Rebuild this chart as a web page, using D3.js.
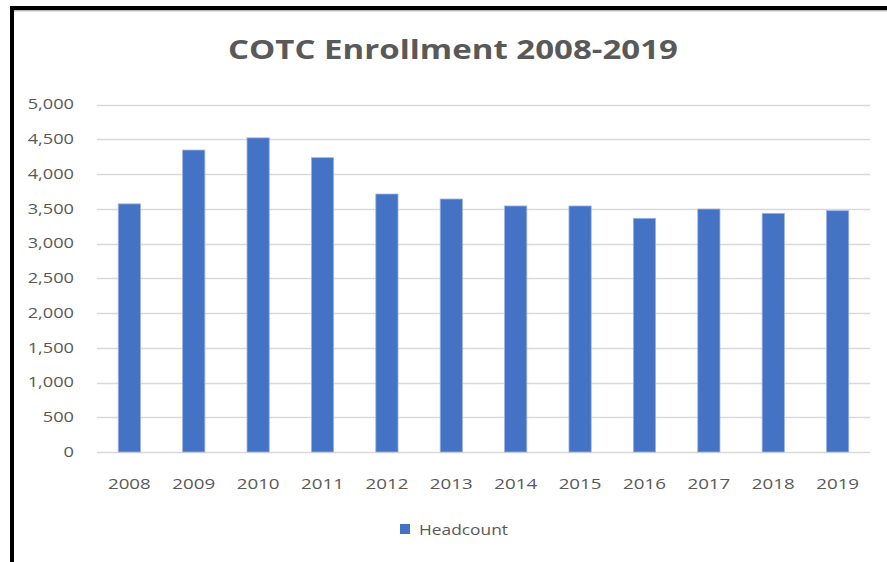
<!DOCTYPE html>
<html><head><meta charset="utf-8">
<script src="https://cdn.jsdelivr.net/npm/d3@7"></script>
<style>html,body{margin:0;padding:0;background:#fff;overflow:hidden}</style>
</head><body>
<svg id="chart" width="887" height="562"></svg>
<script>
const years = ["2008","2009","2010","2011","2012","2013","2014","2015","2016","2017","2018","2019"];
const headcount = [3570, 4345, 4520, 4235, 3712, 3640, 3540, 3540, 3362, 3496, 3434, 3472];
const yTicks = [0,500,1000,1500,2000,2500,3000,3500,4000,4500,5000];
const title = "COTC Enrollment 2008-2019";
const seriesName = "Headcount";

const svg = d3.select("#chart");
const W = 887, H = 562;
const mLeft = 97, mRight = 870, mTop = 104.5, mBottom = 452;
const font = "'Open Sans', 'Liberation Sans', sans-serif";
const grey = "#595959";

function stretch(sel, factor){
  sel.each(function(){
    const l = this.getComputedTextLength();
    d3.select(this).attr("textLength", l*factor).attr("lengthAdjust","spacingAndGlyphs");
  });
}

svg.append("rect").attr("x",0).attr("y",0).attr("width",W).attr("height",H).attr("fill","#fff");

const x = d3.scaleBand().domain(years).range([mLeft,mRight]).paddingInner(0.655).paddingOuter(0.33);
const y = d3.scaleLinear().domain([0,5000]).range([mBottom,mTop]);

// gridlines
svg.append("g").selectAll("line").data(yTicks).join("line")
  .attr("x1",mLeft).attr("x2",mRight)
  .attr("y1",d=>Math.round(y(d))+0.5).attr("y2",d=>Math.round(y(d))+0.5)
  .attr("stroke","#d9d9d9").attr("stroke-width",1.3);

// y axis labels
const yAxis = d3.axisLeft(y).tickValues(yTicks).tickFormat(d3.format(",")).tickSize(0).tickPadding(0);
const ya = svg.append("g").attr("transform",`translate(74,0)`).call(yAxis);
ya.select(".domain").remove();
const yt = ya.selectAll("text").attr("font-family",font).attr("font-size",14).attr("fill",grey);
stretch(yt, 1.3);

// bars
svg.append("g").selectAll("rect").data(years.map((d,i)=>({year:d,v:headcount[i]}))).join("rect")
  .attr("x",d=>x(d.year)).attr("width",x.bandwidth())
  .attr("y",d=>y(d.v)).attr("height",d=>mBottom-y(d.v))
  .attr("fill","#4472c4").attr("stroke","#9db3e0").attr("stroke-width",0.8);

// x axis labels
const xAxis = d3.axisBottom(x).tickSize(0).tickPadding(0);
const xa = svg.append("g").attr("transform",`translate(0,${mBottom+26})`).call(xAxis);
xa.select(".domain").remove();
const xt = xa.selectAll("text").attr("font-family",font).attr("font-size",15).attr("fill",grey).attr("dy","0.71em");
stretch(xt, 1.25);

// title
svg.append("text").attr("x",453).attr("y",59).attr("text-anchor","middle")
  .attr("font-family",font).attr("font-weight","bold").attr("font-size",27).attr("fill",grey)
  .attr("textLength",450).attr("lengthAdjust","spacingAndGlyphs")
  .text(title);

// legend
svg.append("rect").attr("x",400).attr("y",524).attr("width",10).attr("height",10).attr("fill","#4472c4");
svg.append("text").attr("x",419).attr("y",534.5).attr("font-family",font).attr("font-size",15).attr("fill",grey)
  .attr("textLength",89).attr("lengthAdjust","spacingAndGlyphs").text(seriesName);

// frame
svg.append("rect").attr("x",12).attr("y",8).attr("width",W+20).attr("height",H+20)
  .attr("fill","none").attr("stroke","#000").attr("stroke-width",4);
svg.append("line").attr("x1",14).attr("x2",W).attr("y1",10.8).attr("y2",10.8).attr("stroke","#999").attr("stroke-width",1);
</script>
</body></html>
